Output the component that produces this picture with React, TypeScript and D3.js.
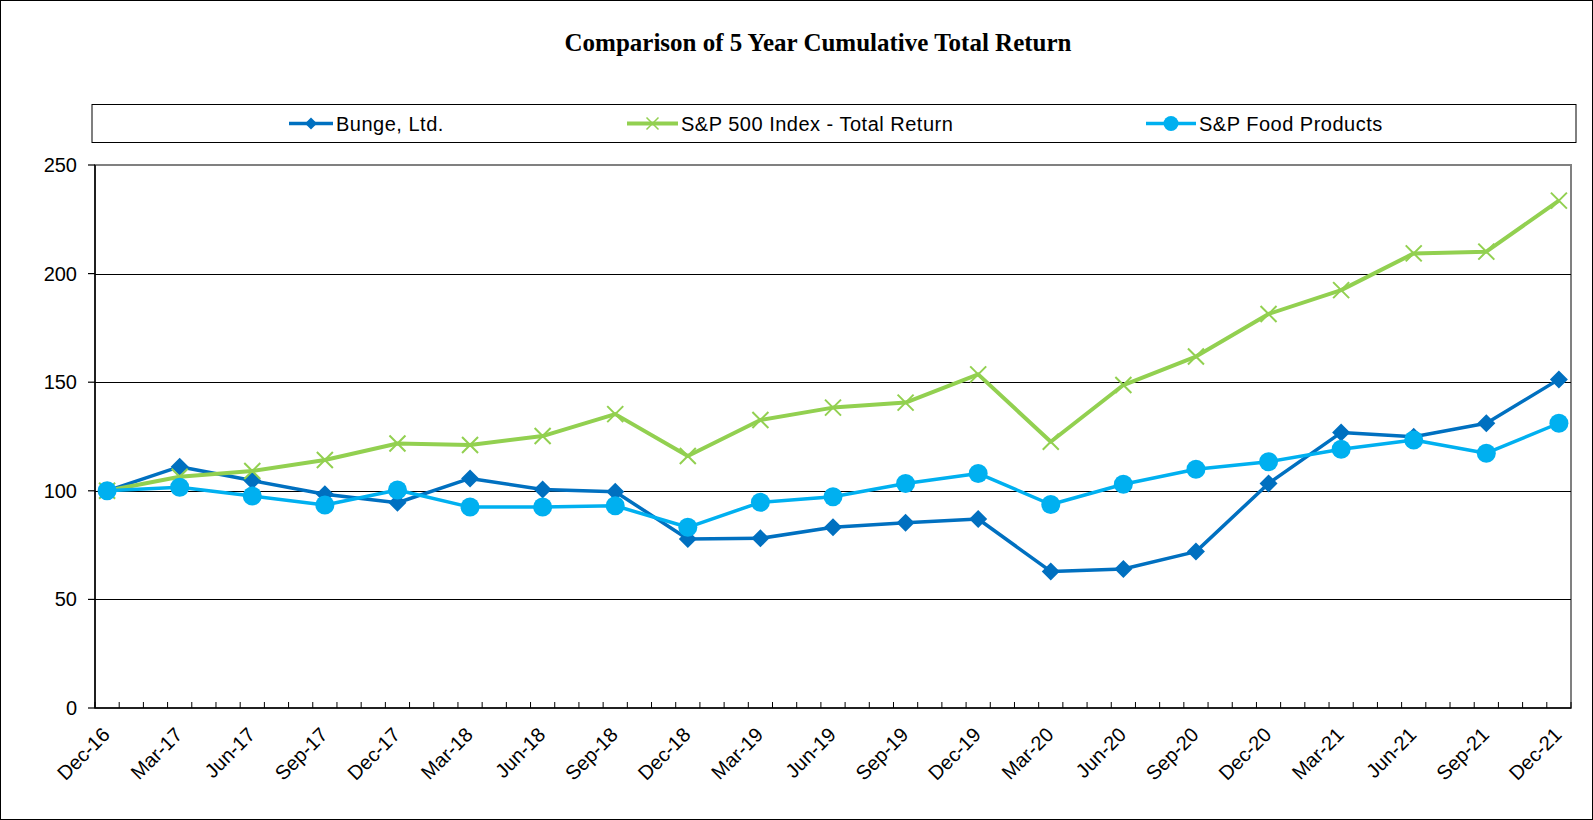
import React from 'react';
import * as d3 from 'd3';

// quarterly points, Dec-16 .. Dec-21
const categories = [
  'Dec-16', 'Mar-17', 'Jun-17', 'Sep-17', 'Dec-17', 'Mar-18', 'Jun-18', 'Sep-18',
  'Dec-18', 'Mar-19', 'Jun-19', 'Sep-19', 'Dec-19', 'Mar-20', 'Jun-20', 'Sep-20',
  'Dec-20', 'Mar-21', 'Jun-21', 'Sep-21', 'Dec-21',
];

const bunge = [100, 111.1, 104.7, 98.4, 94.5, 105.7, 100.6, 99.6, 77.8, 78.1, 83.2, 85.3, 87.0, 62.9, 64.0, 72.0, 103.4, 126.8, 124.9, 131.1, 151.3];
const sp500 = [100, 106.5, 109.1, 114.2, 121.8, 121.1, 125.2, 135.3, 116.0, 132.6, 138.3, 140.6, 153.6, 122.6, 148.7, 161.8, 181.4, 192.4, 209.3, 210.1, 233.6];
const food = [100, 101.6, 97.6, 93.5, 100.4, 92.5, 92.5, 93.1, 83.2, 94.7, 97.3, 103.4, 108.0, 93.7, 103.0, 109.9, 113.4, 119.1, 123.4, 117.3, 131.1];

const yTicks = [0, 50, 100, 150, 200, 250];

const seriesNames = ['Bunge, Ltd.', 'S&P 500 Index - Total Return', 'S&P Food Products'];

const W = 1593;
const H = 820;
const FONT = '"Liberation Sans", Arial, sans-serif';

const BLUE = '#0070C0';
const GREEN = '#92D050';
const CYAN = '#00B0F0';

const App: React.FC = () => {
  const plot = { left: 95, right: 1571, top: 165, bottom: 708 };

  // date axis: one band per month, labels every quarter
  const months = (categories.length - 1) * 3 + 1;
  const x = d3.scaleLinear().domain([0, months]).range([plot.left, plot.right]);
  const y = d3.scaleLinear().domain([0, 250]).range([plot.bottom, plot.top]);
  const px = (i: number) => x(i * 3 + 0.5);

  const line = d3
    .line<number>()
    .x((_, i) => px(i))
    .y(d => y(d));

  const monthTicks = d3.range(0, months + 1);

  const diamond = (cx: number, cy: number, r: number) =>
    `M${cx},${cy - r}L${cx + r},${cy}L${cx},${cy + r}L${cx - r},${cy}Z`;
  const cross = (cx: number, cy: number, r: number) =>
    `M${cx - r},${cy - r}L${cx + r},${cy + r}M${cx - r},${cy + r}L${cx + r},${cy - r}`;

  const legendY = 123.5;
  const legendItems = [
    { name: seriesNames[0], x0: 289, tx: 336, color: BLUE, kind: 'diamond' },
    { name: seriesNames[1], x0: 627, tx: 681, color: GREEN, kind: 'cross' },
    { name: seriesNames[2], x0: 1146, tx: 1199, color: CYAN, kind: 'circle' },
  ];

  return (
    <svg width={W} height={H} style={{ position: 'absolute', left: 0, top: 0, background: '#fff' }}>
      <rect x={0.5} y={0.5} width={W - 1} height={H - 1} fill="#fff" stroke="#000" />

      <text x={818} y={51} textAnchor="middle" fontFamily='"Liberation Serif", "Times New Roman", serif'
        fontWeight="bold" fontSize={25}>
        Comparison of 5 Year Cumulative Total Return
      </text>

      {/* legend */}
      <rect x={92} y={104.5} width={1484} height={38} fill="#fff" stroke="#000" />
      {legendItems.map(it => (
        <g key={it.name}>
          <line x1={it.x0} x2={it.tx - 3} y1={legendY} y2={legendY} stroke={it.color}
            strokeWidth={it.kind === 'cross' ? 4 : 3.5} />
          {it.kind === 'diamond' && <path d={diamond((it.x0 + it.tx - 3) / 2, legendY, 6)} fill={it.color} />}
          {it.kind === 'cross' && <path d={cross((it.x0 + it.tx - 3) / 2, legendY, 6)} stroke={it.color} strokeWidth={1.5} />}
          {it.kind === 'circle' && <circle cx={(it.x0 + it.tx - 3) / 2} cy={legendY} r={7.5} fill={it.color} />}
          <text x={it.tx} y={legendY + 7} fontFamily={FONT} fontSize={20} letterSpacing={0.5}>{it.name}</text>
        </g>
      ))}

      {/* plot frame */}
      <rect x={plot.left} y={plot.top} width={plot.right - plot.left} height={plot.bottom - plot.top}
        fill="none" stroke="#808080" strokeWidth={2} />

      {/* grid */}
      {yTicks.filter(t => t > 0 && t < 250).map(t => (
        <line key={t} x1={plot.left} x2={plot.right} y1={Math.round(y(t)) + 0.5} y2={Math.round(y(t)) + 0.5}
          stroke="#000" strokeWidth={1} />
      ))}

      {/* y axis */}
      <line x1={plot.left} x2={plot.left} y1={plot.top} y2={plot.bottom} stroke="#000" strokeWidth={1.5} />
      {yTicks.map(t => (
        <g key={t}>
          <line x1={plot.left - 7} x2={plot.left} y1={y(t)} y2={y(t)} stroke="#000" strokeWidth={1.2} />
          <text x={77} y={y(t) + 7} textAnchor="end" fontFamily={FONT} fontSize={20}>{t}</text>
        </g>
      ))}

      {/* x axis */}
      <line x1={plot.left} x2={plot.right} y1={plot.bottom} y2={plot.bottom} stroke="#000" strokeWidth={1.5} />
      {monthTicks.map(m => (
        <line key={m} x1={x(m)} x2={x(m)} y1={plot.bottom - 6} y2={plot.bottom} stroke="#000" strokeWidth={1} />
      ))}
      {categories.map((c, i) => (
        <text key={c} transform={`translate(${px(i) + 4},${plot.bottom + 28}) rotate(-45)`}
          textAnchor="end" fontFamily={FONT} fontSize={20}>{c}</text>
      ))}

      {/* series */}
      <path d={line(bunge) || ''} fill="none" stroke={BLUE} strokeWidth={3.5} strokeLinejoin="round" />
      {bunge.map((v, i) => (
        <path key={i} d={diamond(px(i), y(v), 9)} fill={BLUE} />
      ))}

      <path d={line(sp500) || ''} fill="none" stroke={GREEN} strokeWidth={4} strokeLinejoin="round" />
      {sp500.map((v, i) => (
        <path key={i} d={cross(px(i), y(v), 8)} stroke={GREEN} strokeWidth={2} fill="none" />
      ))}

      <path d={line(food) || ''} fill="none" stroke={CYAN} strokeWidth={3.5} strokeLinejoin="round" />
      {food.map((v, i) => (
        <circle key={i} cx={px(i)} cy={y(v)} r={9.5} fill={CYAN} />
      ))}
    </svg>
  );
};

export default App;
